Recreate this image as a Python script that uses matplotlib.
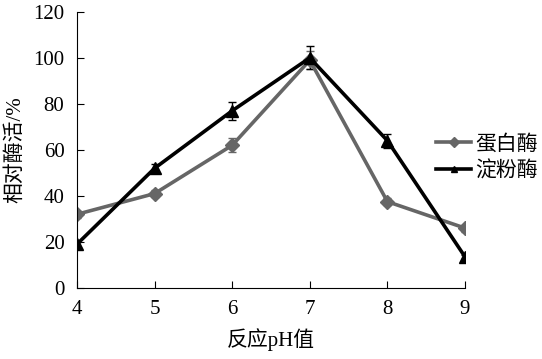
import matplotlib.pyplot as plt
from matplotlib.lines import Line2D

plt.rcParams['font.family'] = ['Liberation Serif', 'Noto Sans CJK SC']

ph = [4, 5, 6, 7, 8, 9]
protease = [32, 41, 62, 99, 37.5, 26]
protease_err = [1.5, 1.5, 3, 4, 1.5, 1.5]
amylase = [19, 52, 77, 100, 64, 13.5]
amylase_err = [1, 2, 4, 5, 3, 1]
labels = ['蛋白酶', '淀粉酶']

fig = plt.figure(figsize=(5.42, 3.59), dpi=100)
ax = fig.add_axes([0.142, 0.198, 0.716, 0.769])

ax.errorbar(ph, protease, yerr=protease_err, color='#666666', lw=2.6,
            marker='D', ms=7, capsize=3, elinewidth=1, capthick=1)
ax.errorbar(ph, amylase, yerr=amylase_err, color='black', lw=2.6,
            marker='^', ms=8, capsize=3, elinewidth=1, capthick=1)

ax.set_xlim(4, 9)
ax.set_ylim(0, 120)
ax.set_xticks(ph)
ax.set_yticks(range(0, 121, 20))
ax.spines['top'].set_visible(False)
ax.spines['right'].set_visible(False)
ax.tick_params(direction='in', length=5, labelsize=15, pad=9)
ax.set_xlabel('反应pH值', fontsize=15, labelpad=6)
ax.set_ylabel('相对酶活/%', fontsize=15, labelpad=6)

handles = [Line2D([], [], color='#666666', lw=2.6, marker='D', ms=5),
           Line2D([], [], color='black', lw=2.6, marker='^', ms=5)]
fig.legend(handles, labels, loc='center left',
           bbox_to_anchor=(436 / 542, 1 - 158 / 359), frameon=False,
           fontsize=15, handlelength=1.7, handletextpad=0.2,
           labelspacing=0.3, borderpad=0, borderaxespad=0)

fig.savefig('out.png')
